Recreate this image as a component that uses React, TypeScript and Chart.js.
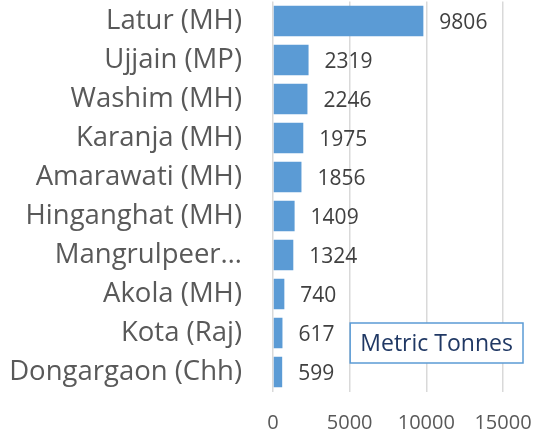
import React, { useEffect, useRef } from "react";
import { Chart, registerables } from "chart.js";

Chart.register(...registerables);

const categories = [
  "Latur (MH)",
  "Ujjain (MP)",
  "Washim (MH)",
  "Karanja (MH)",
  "Amarawati (MH)",
  "Hinganghat (MH)",
  "Mangrulpeer…",
  "Akola (MH)",
  "Kota (Raj)",
  "Dongargaon (Chh)",
];
const values = [9806, 2319, 2246, 1975, 1856, 1409, 1324, 740, 617, 599];
const xTicks = [0, 5000, 10000, 15000];
const boxText = "Metric Tonnes";

const FONT = "'Open Sans', sans-serif";

const labelPlugin = {
  id: "barLabels",
  afterDatasetsDraw(chart: any) {
    const ctx = chart.ctx;
    const meta = chart.getDatasetMeta(0);
    ctx.save();
    ctx.font = `21px ${FONT}`;
    ctx.fillStyle = "#404040";
    ctx.textAlign = "left";
    ctx.textBaseline = "middle";
    meta.data.forEach((bar: any, i: number) => {
      ctx.fillText(String(values[i]), bar.x + 16, bar.y + 2);
    });
    // text box
    const xs = chart.scales.x;
    const area = chart.chartArea;
    const left = xs.getPixelForValue(5000) + 0.5;
    const right = area.right + 20;
    const top = area.bottom - 68.5;
    const h = 40;
    ctx.fillStyle = "#ffffff";
    ctx.fillRect(left, top, right - left, h);
    ctx.strokeStyle = "#5B9BD5";
    ctx.lineWidth = 1.5;
    ctx.strokeRect(left, top, right - left, h);
    ctx.fillStyle = "#203864";
    ctx.font = `23px ${FONT}`;
    ctx.textAlign = "center";
    ctx.fillText(boxText, (left + right) / 2, top + h / 2 + 1);
    ctx.restore();
  },
};

export default function App() {
  const ref = useRef<HTMLCanvasElement>(null);
  useEffect(() => {
    document.body.style.margin = "0";
    const chart = new Chart(ref.current!, {
      type: "bar",
      data: {
        labels: categories,
        datasets: [
          {
            data: values,
            backgroundColor: "#5B9BD5",
            borderWidth: 0,
            categoryPercentage: 0.78,
            barPercentage: 1,
          },
        ],
      },
      options: {
        indexAxis: "y",
        animation: false,
        responsive: false,
        layout: { padding: { top: 1.5, right: 32, left: 0, bottom: 2 } },
        plugins: { legend: { display: false }, tooltip: { enabled: false } },
        scales: {
          x: {
            min: 0,
            max: 15000,
            afterBuildTicks(axis: any) {
              axis.ticks = xTicks.map((v) => ({ value: v }));
            },
            afterFit(scale: any) {
              scale.paddingLeft = 0;
              scale.paddingRight = 0;
              scale.height = 43.5;
            },
            grid: { color: "#D9D9D9", lineWidth: 1.5, drawTicks: false },
            border: { display: false },
            ticks: {
              color: "#595959",
              font: { size: 20, family: FONT },
              padding: 20,
              maxRotation: 0,
              callback: (v: any) => String(v),
            },
          },
          y: {
            afterFit(scale: any) {
              scale.paddingTop = 0;
              scale.paddingBottom = 0;
              scale.width = 273;
            },
            grid: { display: false, drawTicks: false },
            border: { display: false },
            ticks: {
              color: "#595959",
              font: { size: 27.5, family: FONT },
              padding: 31,
              autoSkip: false,
            },
          },
        },
      },
      plugins: [labelPlugin],
    });
    return () => chart.destroy();
  }, []);
  return <canvas ref={ref} width={535} height={437} style={{ display: "block" }} />;
}
